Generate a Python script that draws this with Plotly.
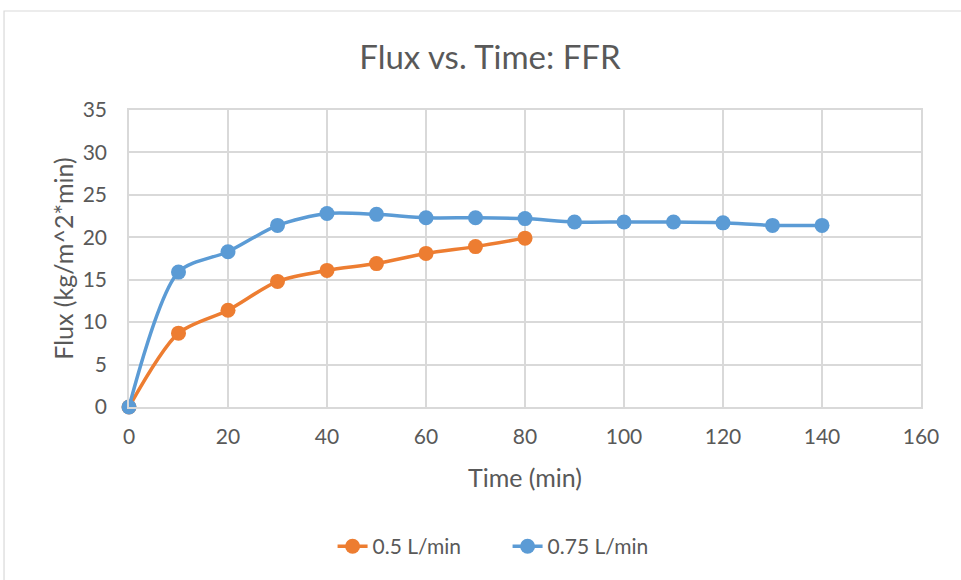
import plotly.graph_objects as go

time_05 = [0, 10, 20, 30, 40, 50, 60, 70, 80]
flux_05 = [0, 8.7, 11.4, 14.8, 16.1, 16.9, 18.1, 18.9, 19.9]
time_075 = [0, 10, 20, 30, 40, 50, 60, 70, 80, 90, 100, 110, 120, 130, 140]
flux_075 = [0, 15.9, 18.3, 21.4, 22.8, 22.7, 22.3, 22.3, 22.2, 21.8, 21.8, 21.8, 21.7, 21.4, 21.4]

ORANGE = "#ED7D31"
BLUE = "#5B9BD5"
FONT = "Lato"
TXT = "#595959"

fig = go.Figure()
fig.add_trace(go.Scatter(
    x=time_05, y=flux_05, name="0.5 L/min", mode="lines+markers", cliponaxis=False,
    line=dict(color=ORANGE, width=3.5, shape="spline", smoothing=0.8),
    marker=dict(color=ORANGE, size=15),
))
fig.add_trace(go.Scatter(
    x=time_075, y=flux_075, name="0.75 L/min", mode="lines+markers", cliponaxis=False,
    line=dict(color=BLUE, width=3.5, shape="spline", smoothing=0.8),
    marker=dict(color=BLUE, size=15),
))

fig.update_layout(
    width=961, height=580,
    margin=dict(l=129, r=40, t=110, b=173, autoexpand=False),
    paper_bgcolor="white", plot_bgcolor="white",
    font=dict(family=FONT, color=TXT, size=20),
    title=dict(text="Flux vs. Time: FFR", x=490 / 961, xref="container", xanchor="center",
               y=1 - 57 / 580, yref="container", yanchor="middle",
               font=dict(family=FONT, size=33, color=TXT)),
    xaxis=dict(range=[0, 160], dtick=20, showgrid=True, gridcolor="#D9D9D9", gridwidth=1.5,
               zeroline=False, showline=True, linecolor="#D9D9D9", linewidth=1.5, mirror=True,
               ticks="", ticklabelstandoff=10, tickfont=dict(size=21, color=TXT),
               title=dict(text="Time (min)", font=dict(size=25, color=TXT), standoff=23)),
    yaxis=dict(range=[0, 35], dtick=5, showgrid=True, gridcolor="#D9D9D9", gridwidth=1.5,
               zeroline=False, showline=True, linecolor="#D9D9D9", linewidth=1.5, mirror=True,
               ticks="", ticklabelstandoff=16, tickfont=dict(size=21, color=TXT),
               title=dict(text="Flux (kg/m^2*min)", font=dict(size=25, color=TXT), standoff=2)),
    legend=dict(orientation="h", x=0.478, xanchor="center",
                y=-0.47, yanchor="middle", entrywidth=130,
                font=dict(size=21, color=TXT)),
    showlegend=True,
)

fig.add_shape(type="rect", xref="paper", yref="paper",
              x0=-0.1578, x1=1.06, y0=-0.62, y1=1.3333,
              line=dict(color="#D9D9D9", width=1.2), fillcolor="rgba(0,0,0,0)", layer="below")

fig.write_html("out.html")
